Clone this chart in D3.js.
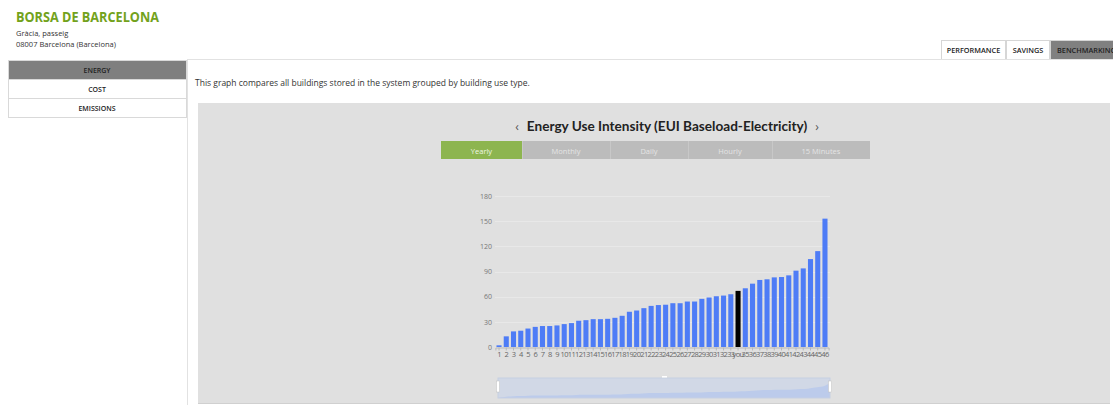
<!DOCTYPE html>
<html>
<head>
<meta charset="utf-8">
<script src="https://cdn.jsdelivr.net/npm/d3@7"></script>
<style>
  html, body { margin: 0; padding: 0; background: #fff; }
  body { width: 1113px; height: 405px; overflow: hidden; font-family: "Open Sans", "Noto Sans", sans-serif; }
  svg { display: block; }
</style>
</head>
<body>
<svg id="page" width="1113" height="405"></svg>
<script>
// Building use benchmarking: EUI (baseload electricity), yearly
const categories = ["1","2","3","4","5","6","7","8","9","10","11","12","13","14","15","16","17","18","19","20","21","22","23","24","25","26","27","28","29","30","31","32","33","you","35","36","37","38","39","40","41","42","43","44","45","46"];
const euiValues = [2, 12.7, 18.6, 19.4, 22, 24, 25, 25, 25.7, 27.3, 28.5, 31.3, 32, 33.2, 33.2, 33.6, 34.8, 37.2, 42, 43.5, 46.3, 49, 50, 50.4, 52.2, 52.2, 54.2, 54.2, 57.4, 59, 60.5, 61.3, 62.9, 66.9, 70, 75.5, 79.9, 80.7, 83, 83.4, 85.4, 91, 93.7, 104.8, 114.3, 153];
const yTicks = [0, 30, 60, 90, 120, 150, 180];
const periodTabs = ["Yearly", "Monthly", "Daily", "Hourly", "15 Minutes"];
const sideMenu = ["ENERGY", "COST", "EMISSIONS"];
const topTabs = ["PERFORMANCE", "SAVINGS", "BENCHMARKING"];
const ownBuilding = "you";

const svg = d3.select("#page");
const font = '"Open Sans", "Noto Sans", sans-serif';

// ---- Header ----
svg.append("text").attr("x", 16).attr("y", 22)
  .attr("font-family", font).attr("font-weight", 700).attr("font-size", 15)
  .attr("fill", "#73a21c").attr("textLength", 143).attr("lengthAdjust", "spacingAndGlyphs")
  .text("BORSA DE BARCELONA");
svg.append("text").attr("x", 16).attr("y", 36).attr("font-family", font)
  .attr("font-size", 7.5).attr("fill", "#333").text("Gràcia, passeig");
svg.append("text").attr("x", 16).attr("y", 47).attr("font-family", font)
  .attr("font-size", 7.5).attr("fill", "#333").text("08007 Barcelona (Barcelona)");

// top tabs (the last one runs past the right edge of the page)
const topX = [941, 1006, 1050, 1113];
topTabs.forEach((t, i) => {
  const active = i === 2;
  svg.append("rect").attr("x", topX[i] + 0.5).attr("y", 40.5)
    .attr("width", (i === 2 ? 70 : topX[i + 1] - topX[i]) - 1).attr("height", 19)
    .attr("fill", active ? "#808080" : "#fff").attr("stroke", "#d6d6d6");
  svg.append("text").attr("x", active ? topX[i] + 7 : (topX[i] + topX[i + 1]) / 2).attr("y", 53)
    .attr("text-anchor", active ? "start" : "middle")
    .attr("font-family", font).attr("font-weight", 600).attr("font-size", 7.3)
    .attr("fill", "#222").text(t);
});

// separators
svg.append("line").attr("x1", 187).attr("x2", 1113).attr("y1", 59.5).attr("y2", 59.5).attr("stroke", "#e2e2e2");
svg.append("line").attr("x1", 187.5).attr("x2", 187.5).attr("y1", 60).attr("y2", 405).attr("stroke", "#e2e2e2");

// side menu
sideMenu.forEach((m, i) => {
  const y = 60 + i * 19;
  svg.append("rect").attr("x", 8.5).attr("y", y + 0.5).attr("width", 178).attr("height", 19)
    .attr("fill", i === 0 ? "#7f7f7f" : "#fff").attr("stroke", "#d9d9d9");
  svg.append("text").attr("x", 97).attr("y", y + 13).attr("text-anchor", "middle")
    .attr("font-family", font).attr("font-weight", 600).attr("font-size", 7)
    .attr("fill", "#222").text(m);
});

svg.append("text").attr("x", 195).attr("y", 86).attr("font-family", font)
  .attr("font-size", 8.5).attr("fill", "#333")
  .text("This graph compares all buildings stored in the system grouped by building use type.");

// ---- Chart panel ----
svg.append("rect").attr("x", 198).attr("y", 103).attr("width", 912).attr("height", 300).attr("fill", "#e0e0e0");
svg.append("line").attr("x1", 198).attr("x2", 1110).attr("y1", 403.5).attr("y2", 403.5).attr("stroke", "#d0d0d0");

// chart title with previous / next arrows on one line
const title = svg.append("text").attr("x", 667).attr("y", 131).attr("text-anchor", "middle");
title.append("tspan").attr("font-family", font).attr("font-size", 12).attr("fill", "#555").text("‹");
title.append("tspan").attr("dx", 8)
  .attr("font-family", 'Lato, "Open Sans", sans-serif').attr("font-weight", 700).attr("font-size", 13.6)
  .attr("fill", "#222").text("Energy Use Intensity (EUI Baseload-Electricity)");
title.append("tspan").attr("dx", 8).attr("font-family", font).attr("font-size", 12).attr("fill", "#555").text("›");

// period tabs
const tabEdges = [441, 522, 610, 688, 772, 870];
periodTabs.forEach((t, i) => {
  svg.append("rect").attr("x", tabEdges[i]).attr("y", 141)
    .attr("width", tabEdges[i + 1] - tabEdges[i]).attr("height", 18)
    .attr("fill", i === 0 ? "#8db54f" : "#bcbcbc");
  if (i > 0) svg.append("line").attr("x1", tabEdges[i] + 0.5).attr("x2", tabEdges[i] + 0.5)
    .attr("y1", 141).attr("y2", 159).attr("stroke", "#c8c8c8");
  svg.append("text").attr("x", (tabEdges[i] + tabEdges[i + 1]) / 2).attr("y", 153.5)
    .attr("text-anchor", "middle").attr("font-family", font).attr("font-size", 7.5)
    .attr("fill", i === 0 ? "#eef5e2" : "#e4e4e4").text(t);
});

// ---- Bars ----
const x = d3.scaleBand().domain(categories).range([495.4, 828.6]).paddingInner(0.3).paddingOuter(0.15);
const y = d3.scaleLinear().domain([0, 180]).range([347, 196]);

const plot = svg.append("g");
plot.selectAll("line.grid").data(yTicks.filter(d => d > 0)).join("line")
  .attr("class", "grid").attr("x1", 495).attr("x2", 830)
  .attr("y1", d => Math.round(y(d)) + 0.5).attr("y2", d => Math.round(y(d)) + 0.5)
  .attr("stroke", "#e8e8e8");

const yAxis = plot.append("g").attr("transform", "translate(494,0)")
  .call(d3.axisLeft(y).tickValues(yTicks).tickSize(0).tickPadding(2));
yAxis.select(".domain").remove();
yAxis.selectAll("text").attr("font-family", font).attr("font-size", 7).attr("fill", "#777");

plot.selectAll("rect.bar").data(categories).join("rect")
  .attr("class", "bar")
  .attr("x", d => x(d)).attr("width", x.bandwidth())
  .attr("y", (d, i) => y(euiValues[i]))
  .attr("height", (d, i) => y(0) - y(euiValues[i]))
  .attr("fill", d => d === ownBuilding ? "#000" : "#4e7cf6");

const xAxis = plot.append("g").attr("transform", "translate(0,347.5)")
  .call(d3.axisBottom(x).tickSize(3).tickPadding(1));
xAxis.select(".domain").attr("stroke", "#b8b8b8");
xAxis.selectAll(".tick line").attr("stroke", "#b8b8b8");
xAxis.selectAll("text").attr("font-family", font).attr("font-size", 7.5)
  .attr("fill", "#666").attr("letter-spacing", -0.6);

// ---- Navigator ----
const nav = svg.append("g");
const nx = d3.scaleLinear().domain([0, categories.length - 1]).range([499, 830]);
const ny = d3.scaleLinear().domain([0, 180]).range([398, 380]);
nav.append("rect").attr("x", 498).attr("y", 378).attr("width", 332).attr("height", 20).attr("fill", "#d1d8e6");
nav.append("path").datum(euiValues)
  .attr("d", d3.area().x((d, i) => nx(i)).y0(398).y1(d => ny(d)).curve(d3.curveMonotoneX))
  .attr("fill", "#bccbeb");
nav.append("rect").attr("x", 498).attr("y", 378).attr("width", 332).attr("height", 20)
  .attr("fill", "none").attr("stroke", "#c6cfe2");
[498, 830].forEach(hx => {
  nav.append("rect").attr("x", hx - 1.5).attr("y", 381).attr("width", 3).attr("height", 11)
    .attr("fill", "#fff").attr("stroke", "#c0c0c0").attr("stroke-width", 0.5);
});
nav.append("rect").attr("x", 662).attr("y", 376).attr("width", 5).attr("height", 1.5).attr("fill", "#fff");
</script>
</body>
</html>
